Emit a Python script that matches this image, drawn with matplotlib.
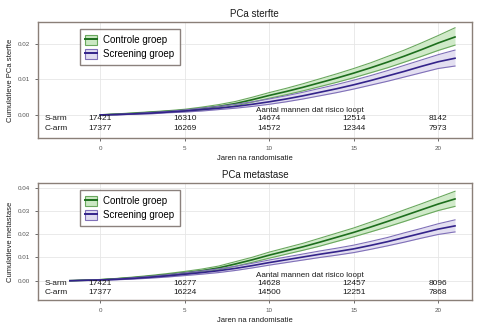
import numpy as np
import matplotlib
matplotlib.use('Agg')
import matplotlib.pyplot as plt
from matplotlib.patches import Patch
from matplotlib.lines import Line2D

# --- data ---
years = [0, 1, 2, 3, 4, 5, 6, 7, 8, 9, 10, 11, 12, 13, 14, 15, 16, 17, 18, 19, 20, 21]

# PCa sterfte (top panel)
sterfte_ctrl = [0, 0.0002, 0.0004, 0.0007, 0.0010, 0.0013, 0.0018, 0.0024, 0.0032, 0.0043, 0.0055,
                0.0066, 0.0078, 0.0091, 0.0104, 0.0118, 0.0133, 0.0149, 0.0166, 0.0184, 0.0203, 0.0220]
sterfte_ctrl_lo = [0, 0.0001, 0.0003, 0.0005, 0.0008, 0.0010, 0.0014, 0.0019, 0.0026, 0.0036, 0.0047,
                   0.0057, 0.0068, 0.0080, 0.0092, 0.0105, 0.0119, 0.0133, 0.0149, 0.0165, 0.0182, 0.0197]
sterfte_ctrl_hi = [0, 0.0003, 0.0006, 0.0009, 0.0012, 0.0016, 0.0022, 0.0029, 0.0038, 0.0050, 0.0063,
                   0.0075, 0.0088, 0.0102, 0.0116, 0.0131, 0.0147, 0.0165, 0.0183, 0.0203, 0.0224, 0.0246]
sterfte_scr = [0, 0.0001, 0.0003, 0.0005, 0.0008, 0.0011, 0.0015, 0.0019, 0.0024, 0.0030, 0.0037,
               0.0045, 0.0054, 0.0064, 0.0074, 0.0085, 0.0097, 0.0110, 0.0123, 0.0137, 0.0150, 0.0160]
sterfte_scr_lo = [0, 0.0000, 0.0002, 0.0003, 0.0006, 0.0008, 0.0011, 0.0015, 0.0019, 0.0024, 0.0030,
                  0.0037, 0.0045, 0.0054, 0.0063, 0.0073, 0.0084, 0.0095, 0.0107, 0.0119, 0.0131, 0.0138]
sterfte_scr_hi = [0, 0.0002, 0.0004, 0.0007, 0.0010, 0.0014, 0.0019, 0.0024, 0.0030, 0.0037, 0.0045,
                  0.0054, 0.0064, 0.0075, 0.0086, 0.0098, 0.0111, 0.0125, 0.0140, 0.0155, 0.0170, 0.0183]

# PCa metastase (bottom panel), curve starts slightly before 0
years_meta = [-1.8, 0, 1, 2, 3, 4, 5, 6, 7, 8, 9, 10, 11, 12, 13, 14, 15, 16, 17, 18, 19, 20, 21]
meta_ctrl = [0, 0.0004, 0.0008, 0.0013, 0.0019, 0.0026, 0.0034, 0.0043, 0.0055, 0.0072, 0.0090, 0.0110,
             0.0128, 0.0146, 0.0166, 0.0187, 0.0208, 0.0231, 0.0255, 0.0280, 0.0305, 0.0330, 0.0352]
meta_ctrl_lo = [0, 0.0003, 0.0006, 0.0010, 0.0015, 0.0021, 0.0028, 0.0036, 0.0047, 0.0062, 0.0079, 0.0097,
                0.0114, 0.0131, 0.0149, 0.0169, 0.0189, 0.0210, 0.0232, 0.0255, 0.0279, 0.0302, 0.0320]
meta_ctrl_hi = [0, 0.0005, 0.0010, 0.0016, 0.0023, 0.0031, 0.0040, 0.0050, 0.0063, 0.0082, 0.0101, 0.0123,
                0.0142, 0.0161, 0.0183, 0.0205, 0.0227, 0.0252, 0.0278, 0.0305, 0.0331, 0.0358, 0.0385]
meta_scr = [0, 0.0003, 0.0006, 0.0010, 0.0015, 0.0021, 0.0028, 0.0035, 0.0043, 0.0053, 0.0065, 0.0078,
            0.0090, 0.0102, 0.0114, 0.0125, 0.0137, 0.0152, 0.0168, 0.0186, 0.0204, 0.0222, 0.0236]
meta_scr_lo = [0, 0.0002, 0.0004, 0.0007, 0.0011, 0.0016, 0.0022, 0.0028, 0.0035, 0.0044, 0.0055, 0.0067,
               0.0078, 0.0089, 0.0100, 0.0110, 0.0121, 0.0135, 0.0150, 0.0166, 0.0183, 0.0199, 0.0210]
meta_scr_hi = [0, 0.0004, 0.0008, 0.0013, 0.0019, 0.0026, 0.0034, 0.0042, 0.0051, 0.0062, 0.0075, 0.0089,
               0.0102, 0.0115, 0.0128, 0.0140, 0.0153, 0.0169, 0.0186, 0.0206, 0.0225, 0.0245, 0.0262]

risk_years = [0, 5, 10, 15, 20]
sterfte_s_arm = ['17421', '16310', '14674', '12514', '8142']
sterfte_c_arm = ['17377', '16269', '14572', '12344', '7973']
meta_s_arm = ['17421', '16277', '14628', '12457', '8096']
meta_c_arm = ['17377', '16224', '14500', '12251', '7868']

x_ticks = [0, 5, 10, 15, 20]
sterfte_yticks = [0.00, 0.01, 0.02]
meta_yticks = [0.00, 0.01, 0.02, 0.03, 0.04]

GREEN = '#1d6e1d'
GREEN_FILL = '#cbe8c3'
GREEN_EDGE = '#6aa85e'
PURPLE = '#33238a'
PURPLE_FILL = '#e0dcf0'
PURPLE_EDGE = '#8070b8'
FRAME = '#8a7f78'
TXT = '#1a1a1a'

plt.rcParams['font.family'] = ['Liberation Sans', 'DejaVu Sans']

fig = plt.figure(figsize=(4.85, 3.3), dpi=100)
ax1 = fig.add_axes([0.078, 0.582, 0.895, 0.351])
ax2 = fig.add_axes([0.078, 0.091, 0.895, 0.354])


def draw_group(ax, x, mid, lo, hi, col, fill, edge):
    ax.fill_between(x, lo, hi, color=fill, lw=0, alpha=0.9)
    ax.plot(x, lo, color=edge, lw=0.8)
    ax.plot(x, hi, color=edge, lw=0.8)
    ax.plot(x, mid, color=col, lw=1.2)


def style(ax, title, ylabel, yticks, ylim, s_arm, c_arm, s_y, c_y, head_y):
    ax.set_xlim(-3.7, 22.0)
    ax.set_ylim(*ylim)
    ax.set_xticks(x_ticks)
    ax.set_yticks(yticks)
    ax.set_yticklabels(['%.2f' % v for v in yticks])
    ax.tick_params(labelsize=4.5, colors='#555555', length=2, width=0.6)
    ax.grid(True, color='#e6e6e6', lw=0.6)
    ax.set_axisbelow(True)
    for sp in ax.spines.values():
        sp.set_color(FRAME)
        sp.set_linewidth(1.0)
    ax.set_title(title, fontsize=7, color=TXT, pad=4)
    ax.set_xlabel('Jaren na randomisatie', fontsize=5.5, color=TXT, labelpad=3)
    ax.set_ylabel(ylabel, fontsize=5.5, color=TXT, labelpad=3)

    ax.text(-3.3, s_y, 'S-arm', fontsize=6, color=TXT, va='center')
    ax.text(-3.3, c_y, 'C-arm', fontsize=6, color=TXT, va='center')
    for xv, s, c in zip(risk_years, s_arm, c_arm):
        ax.text(xv, s_y, s, fontsize=6, color=TXT, ha='center', va='center')
        ax.text(xv, c_y, c, fontsize=6, color=TXT, ha='center', va='center')
    ax.text(12.4, head_y, 'Aantal mannen dat risico loopt', fontsize=5.8, color=TXT,
            ha='center', va='bottom')

    handles = [
        (Patch(facecolor=GREEN_FILL, edgecolor=GREEN_EDGE, lw=0.8), Line2D([], [], color=GREEN, lw=1.4)),
        (Patch(facecolor=PURPLE_FILL, edgecolor=PURPLE_EDGE, lw=0.8), Line2D([], [], color=PURPLE, lw=1.4)),
    ]
    leg = ax.legend(handles, ['Controle groep', 'Screening groep'], loc='upper left',
                    bbox_to_anchor=(0.085, 0.985), fontsize=7, fancybox=False,
                    handlelength=1.2, handleheight=1.2, borderpad=0.6, labelspacing=0.4,
                    handletextpad=0.6)
    leg.get_frame().set_edgecolor('#6e625c')
    leg.get_frame().set_linewidth(1.0)


draw_group(ax1, years, sterfte_ctrl, sterfte_ctrl_lo, sterfte_ctrl_hi, GREEN, GREEN_FILL, GREEN_EDGE)
draw_group(ax1, years, sterfte_scr, sterfte_scr_lo, sterfte_scr_hi, PURPLE, PURPLE_FILL, PURPLE_EDGE)
style(ax1, 'PCa sterfte', 'Cumulatieve PCa sterfte', sterfte_yticks, (-0.0065, 0.0262),
      sterfte_s_arm, sterfte_c_arm, -0.0010, -0.0038, 0.0002)

draw_group(ax2, years_meta, meta_ctrl, meta_ctrl_lo, meta_ctrl_hi, GREEN, GREEN_FILL, GREEN_EDGE)
draw_group(ax2, years_meta, meta_scr, meta_scr_lo, meta_scr_hi, PURPLE, PURPLE_FILL, PURPLE_EDGE)
style(ax2, 'PCa metastase', 'Cumulatieve metastase', meta_yticks, (-0.0083, 0.042),
      meta_s_arm, meta_c_arm, -0.0010, -0.0050, 0.0009)

fig.savefig('out.png', dpi=100)
